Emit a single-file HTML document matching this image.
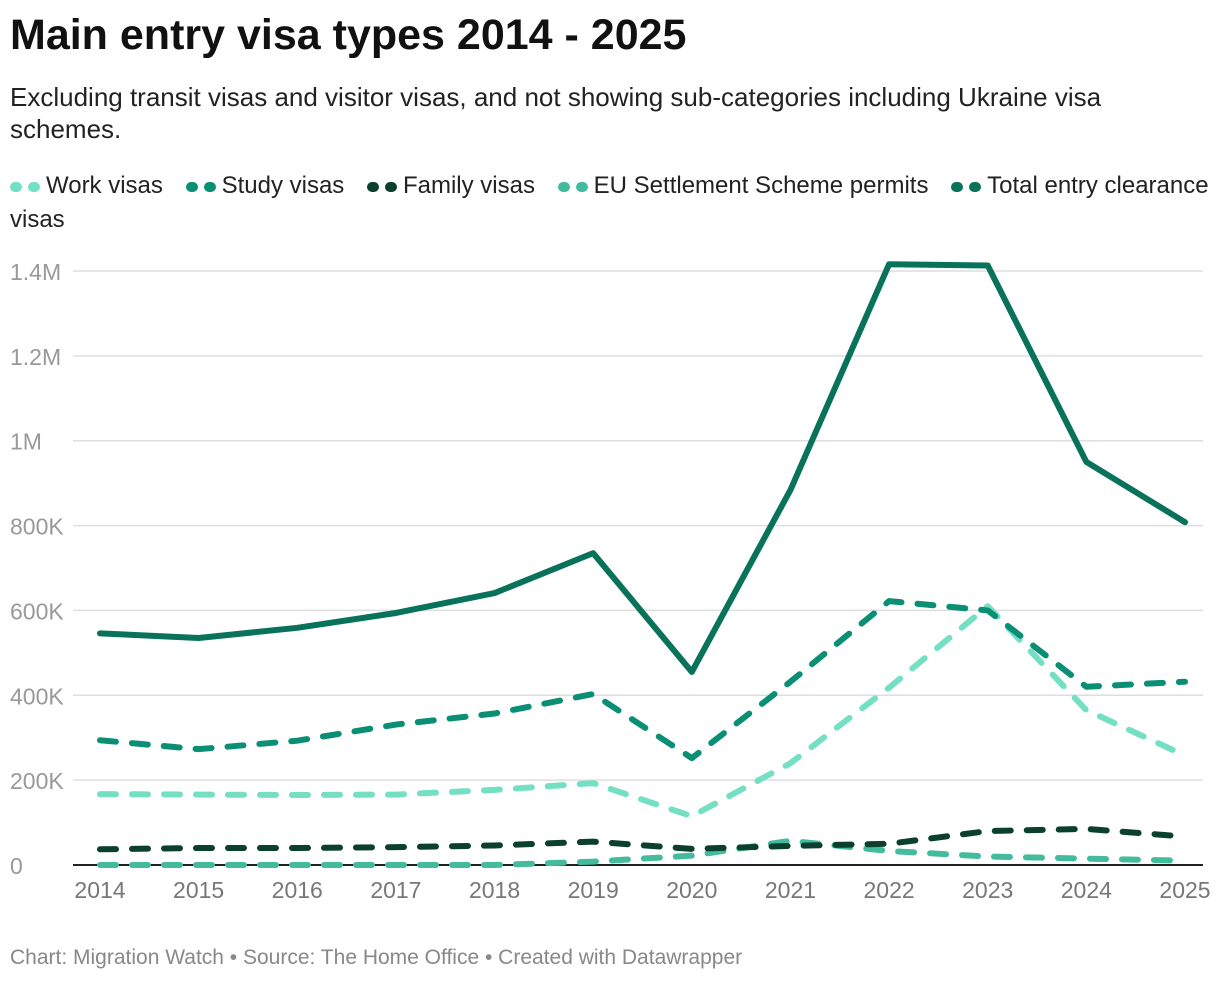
<!DOCTYPE html>
<html><head><meta charset="utf-8"><style>
body{margin:0;background:#fff;font-family:"Liberation Sans",sans-serif;width:1220px;height:982px;overflow:hidden;position:relative}
h1{position:absolute;left:10px;top:11px;margin:0;font-size:43px;font-weight:bold;color:#111}
.sub{position:absolute;left:10px;top:81px;font-size:26px;line-height:32px;color:#222;width:1180px}
.leg{position:absolute;left:10px;top:169px;font-size:24px;line-height:34px;color:#222;width:1205px}
.li{display:inline-block;margin-right:16px}
.dot{display:inline-block;width:12px;height:10px;border-radius:5px;margin-right:6px;vertical-align:middle}
.foot{position:absolute;left:10px;top:946px;font-size:21px;color:#888}
</style></head><body>
<h1>Main entry visa types 2014 - 2025</h1>
<div class="sub">Excluding transit visas and visitor visas, and not showing sub-categories including Ukraine visa schemes.</div>
<div class="leg">
<span class="li"><span class="dot" style="background:#73e0c3"></span><span class="dot" style="background:#73e0c3"></span>Work visas</span>
<span class="li"><span class="dot" style="background:#0a8f74"></span><span class="dot" style="background:#0a8f74"></span>Study visas</span>
<span class="li"><span class="dot" style="background:#0b3f2e"></span><span class="dot" style="background:#0b3f2e"></span>Family visas</span>
<span class="li"><span class="dot" style="background:#44bb9d"></span><span class="dot" style="background:#44bb9d"></span>EU Settlement Scheme permits</span>
<span><span class="dot" style="background:#08735a"></span><span class="dot" style="background:#08735a"></span>Total entry clearance visas</span>
</div>
<svg id="chart" width="1220" height="982" style="position:absolute;left:0;top:0"></svg>
<div class="foot">Chart: Migration Watch • Source: The Home Office • Created with Datawrapper</div>
<script>
const years=[2014,2015,2016,2017,2018,2019,2020,2021,2022,2023,2024,2025];
const yTicks=[0,200000,400000,600000,800000,1000000,1200000,1400000];
const yTickLabels=["0","200K","400K","600K","800K","1M","1.2M","1.4M"];
const workVisas=[167000,166000,165000,166000,177000,193000,115000,240000,418000,610000,365000,258000];
const studyVisas=[294000,273000,293000,331000,357000,403000,252000,432000,622000,600000,420000,432000];
const familyVisas=[37000,40000,40000,42000,46000,55000,38000,45000,50000,80000,85000,67000];
const euVisas=[0,0,0,0,0,8000,22000,57000,33000,20000,15000,10000];
const totalVisas=[546000,535000,559000,594000,641000,735000,455000,884000,1416000,1413000,950000,808000];
const NS="http://www.w3.org/2000/svg";
const svg=document.getElementById('chart');
const x=i=>100+(1185-100)*(i/(years.length-1));
const y=v=>865-v*(865-271)/1400000;
function mk(t,a){const e=document.createElementNS(NS,t);for(const k in a)e.setAttribute(k,a[k]);svg.appendChild(e);return e;}
yTicks.forEach((t,i)=>{
  if(t>0){const g=mk('line',{x1:73,x2:1203,y1:y(t),y2:y(t),stroke:'#dedede','stroke-width':1.5});
  
  }
  const l=mk('text',{x:10,y:y(t)+9,'font-size':23,fill:'#999','font-family':'Liberation Sans, sans-serif'});
  l.textContent=yTickLabels[i];
  
  
});
years.forEach((yr,i)=>{
  const l=mk('text',{x:x(i),y:898,'font-size':23,fill:'#777','text-anchor':'middle','font-family':'Liberation Sans, sans-serif'});
  l.textContent=yr;
  
  
});
const base=mk('line',{x1:73,x2:1203,y1:865,y2:865,stroke:'#222','stroke-width':2});


function series(vals,color,dash,name,w){
  const p=mk('polyline',{points:vals.map((v,i)=>x(i)+','+y(v)).join(' '),fill:'none',stroke:color,'stroke-width':w,'stroke-linecap':'round','stroke-linejoin':'round'});
  if(dash)p.setAttribute('stroke-dasharray',dash);
  
  
}
series(euVisas,'#44bb9d','16 16','eu-settlement-line',6);
series(familyVisas,'#0b3f2e','16 16','family-visas-line',6);
series(workVisas,'#73e0c3','16 16','work-visas-line',6);
series(studyVisas,'#0a8f74','16 16','study-visas-line',6);
series(totalVisas,'#08735a',null,'total-visas-line',6);
</script>
</body></html>
